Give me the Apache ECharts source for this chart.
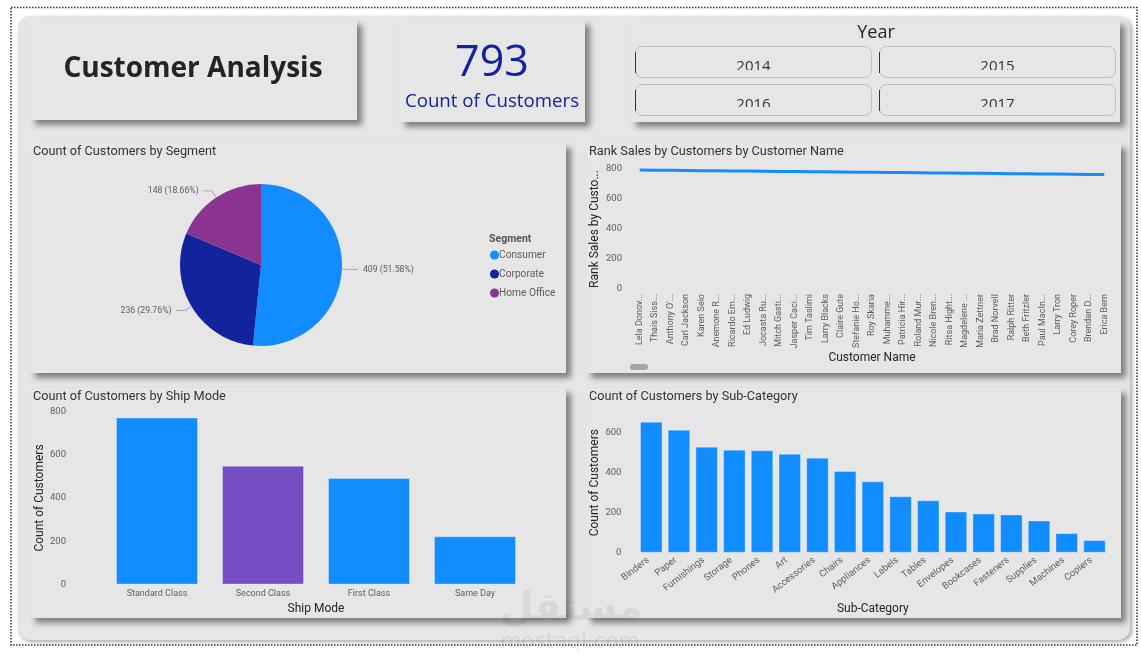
<!DOCTYPE html>
<html><head><meta charset="utf-8">
<style>html,body{margin:0;padding:0;background:#fff}#c{width:1141px;height:667px}</style>
<script src="https://cdn.jsdelivr.net/npm/echarts@6/dist/echarts.min.js"></script>
</head><body><div id="c"></div>
<script>
const BLUE='#118DFF',NAVY='#12239E',PLUM='#8A3391',VIOLET='#744EC2',BG='#E6E6E6';
const segmentNames=['Consumer','Corporate','Home Office'];
const segmentValues=[409,236,148];
const segmentColors=[BLUE,NAVY,PLUM];
const customerNames=['Lela Donov...','Thais Siss...',"Anthony O'...",'Carl Jackson','Karen Seio','Anemone R...','Ricardo Em...','Ed Ludwig','Jocasta Ru...','Mitch Gasti...','Jasper Caci...','Tim Taslimi','Larry Blacks','Claire Gute','Stefanie Ho...','Roy Skaria','Muhamme...','Patricia Hir...','Roland Mur...','Nicole Bren...','Ritsa Hight...','Magdelene ...','Maria Zettner','Brad Norvell','Ralph Ritter','Beth Fritzler','Paul MacIn...','Larry Tron','Corey Roper','Brendan D...','Erica Bern'];
const rankValues=[793,792,791,790,789,788,787,786,785,784,783,782,781,780,779,778,777,776,775,774,773,772,771,770,769,768,767,766,765,764,763];
const shipModes=['Standard Class','Second Class','First Class','Same Day'];
const shipValues=[772,549,493,223];
const subCategories=['Binders','Paper','Furnishings','Storage','Phones','Art','Accessories','Chairs','Appliances','Labels','Tables','Envelopes','Bookcases','Fasteners','Supplies','Machines','Copiers'];
const subValues=[655,615,530,515,512,495,475,409,357,282,262,206,196,191,161,98,63];
const years=['2014','2015','2016','2017'];

const UI='Roboto';
const card=(x,y,w,h,r)=>({type:'rect',z:1,shape:{x,y,width:w,height:h,r:r||0},style:{fill:BG,shadowColor:'rgba(0,0,0,0.45)',shadowBlur:6,shadowOffsetX:5,shadowOffsetY:5}});
const txt=(x,y,text,font,fill,align,z)=>({type:'text',z:z||5,x,y,style:{text,font,fill:fill||'#252423',align:align||'left',verticalAlign:'middle'}});

const g=[];
g.push({type:'rect',z:0,shape:{x:18,y:16,width:1112,height:624,r:12},style:{fill:BG,shadowColor:'rgba(0,0,0,0.35)',shadowBlur:4,shadowOffsetX:2,shadowOffsetY:2}});
g.push({type:'rect',z:0,shape:{x:11,y:7.5,width:1126,height:637.5},style:{fill:'none',stroke:'#333',lineWidth:1.5,lineDash:[1.5,1.5]}});
[[30,20,327,100],[400,20,185,102],[631,20,489,102],[30,143,536,230],[586,143,535,230],[30,388,536,230],[586,388,535,230]].forEach(a=>g.push(card(...a)));
g.push(txt(193,69,'Customer Analysis','bold 28px "Open Sans"','#252423','center'));
g.push(txt(492,64,'793','43px "Open Sans"',NAVY,'center'));
g.push(txt(492,102,'Count of Customers','18.7px "Open Sans"',NAVY,'center'));
g.push(txt(876,33,'Year','18px "Open Sans"','#252423','center'));
const btn=[[635,46],[879,46],[635,84],[879,84]];
btn.forEach((b,i)=>{
  g.push(txt(b[0]+118.5,b[1]+20.5,years[i],'15px "Open Sans"','#333','center',5));
  g.push({type:'rect',z:6,shape:{x:b[0]+1,y:b[1]+(i<2?24:23),width:235,height:7},style:{fill:BG}});
  g.push({type:'rect',z:7,shape:{x:b[0]+0.5,y:b[1]+0.5,width:236,height:31,r:7},style:{fill:'none',stroke:'#BDBDBD',lineWidth:1}});
  g.push({type:'line',z:8,shape:{x1:b[0]+0.5,y1:b[1]+6,x2:b[0]+0.5,y2:b[1]+27},style:{stroke:'#333',lineWidth:1}});
});
[[33,152,'Count of Customers by Segment'],[589,152,'Rank Sales by Customers by Customer Name'],[33,397,'Count of Customers by Ship Mode'],[589,397,'Count of Customers by Sub-Category']].forEach(t=>g.push(txt(t[0],t[1],t[2],'12.7px '+UI,'#333')));
g.push(txt(489,239,'Segment','bold 10.5px '+UI,'#555'));
g.push({type:'rect',z:5,shape:{x:630,y:364,width:18,height:6,r:3},style:{fill:'#A6A6A6'}});
g.push(txt(571,610,'مستقل','bold 39px "DejaVu Sans"','rgba(0,0,0,0.06)','center',9));
g.push(txt(570,642,'mostaql.com','21.5px "DejaVu Sans"','rgba(0,0,0,0.07)','center',9));

const axisBase={z:3,axisLine:{show:false},axisTick:{show:false},splitLine:{show:false}};
const nameStyle={fontFamily:UI,fontSize:12,color:'#252423'};
const tick={fontFamily:UI,fontSize:9.5,color:'#605E5C'};
const yTick={...tick,padding:[6,0,0,0]};
const barStyle=c=>({color:c,borderColor:'rgba(255,255,255,0.3)',borderWidth:1});

const option={
 animation:false,backgroundColor:'#fff',
 graphic:{elements:g},
 legend:{z:6,orient:'vertical',left:485,top:245,itemWidth:9,itemHeight:9,itemGap:9,icon:'circle',data:segmentNames,textStyle:{fontFamily:UI,fontSize:10.2,color:'#605E5C',padding:[0,0,0,-5]},selectedMode:false},
 grid:[
  {left:632,width:480,top:169,height:120},
  {left:104,width:424,top:411.5,height:173},
  {left:637.4,width:470.9,top:412.7,height:140}
 ],
 xAxis:[
  {gridIndex:0,type:'category',data:customerNames,...axisBase,boundaryGap:true,name:'Customer Name',nameLocation:'middle',nameGap:63,nameMoveOverlap:false,nameTextStyle:nameStyle,axisLabel:{...tick,fontSize:9,rotate:90,margin:5,interval:0}},
  {gridIndex:1,type:'category',data:shipModes,...axisBase,name:'Ship Mode',nameLocation:'middle',nameGap:18,nameMoveOverlap:false,nameTextStyle:nameStyle,axisLabel:{...tick,fontSize:9,margin:5,interval:0}},
  {gridIndex:2,type:'category',data:subCategories,...axisBase,name:'Sub-Category',nameLocation:'middle',nameGap:50,nameMoveOverlap:false,nameTextStyle:nameStyle,axisLabel:{...tick,rotate:38,margin:4,interval:0,padding:[0,4,0,0]}}
 ],
 yAxis:[
  {gridIndex:0,type:'value',min:0,max:800,interval:200,...axisBase,name:'Rank Sales by Custo...',nameLocation:'middle',nameGap:31,nameMoveOverlap:false,nameTextStyle:nameStyle,axisLabel:{...yTick,margin:10}},
  {gridIndex:1,type:'value',min:0,max:800,interval:200,...axisBase,name:'Count of Customers',nameLocation:'middle',nameGap:58,nameMoveOverlap:false,nameTextStyle:nameStyle,axisLabel:{...yTick,margin:38}},
  {gridIndex:2,type:'value',min:0,max:700,interval:200,...axisBase,name:'Count of Customers',nameLocation:'middle',nameGap:36,nameMoveOverlap:false,nameTextStyle:nameStyle,axisLabel:{...yTick,margin:16,showMaxLabel:false}}
 ],
 series:[
  {type:'pie',z:4,center:[261,265],radius:[0,81],startAngle:90,clockwise:true,percentPrecision:2,
   data:segmentNames.map((n,i)=>({name:n,value:segmentValues[i],itemStyle:{color:segmentColors[i]}})),
   label:{formatter:'{c} ({d}%)',fontFamily:UI,fontSize:8.7,color:'#605E5C'},
   labelLine:{length:8,length2:8,lineStyle:{color:'#A6A6A6',width:1}}},
  {type:'line',z:4,xAxisIndex:0,yAxisIndex:0,data:rankValues,symbol:'none',lineStyle:{color:BLUE,width:3}},
  {type:'bar',z:4,xAxisIndex:1,yAxisIndex:1,barWidth:82,data:shipValues.map((v,i)=>({value:v,itemStyle:barStyle(i===1?VIOLET:BLUE)}))},
  {type:'bar',z:4,xAxisIndex:2,yAxisIndex:2,barWidth:22.5,data:subValues,itemStyle:barStyle(BLUE)}
 ]
};
const chart=echarts.init(document.getElementById('c'),null,{renderer:'canvas'});
chart.setOption(option);
</script></body></html>
